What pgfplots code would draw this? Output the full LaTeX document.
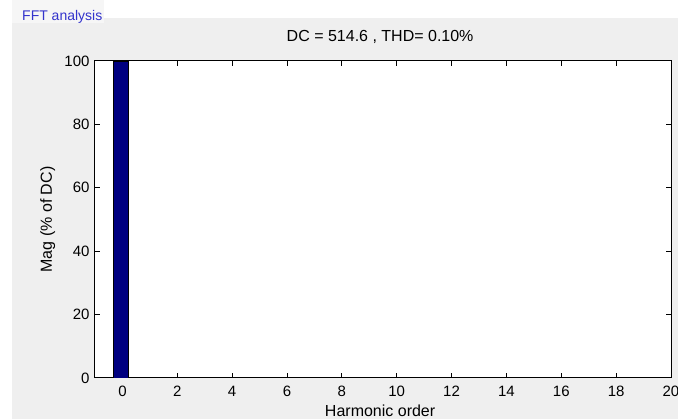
\documentclass[border=0pt]{standalone}
\usepackage{pgfplots}
\pgfplotsset{compat=1.18}
\usepackage{fontspec}
\setmainfont{Liberation Sans}
\definecolor{panel}{HTML}{EFEFEF}
\definecolor{labelbg}{HTML}{F6F6F6}
\definecolor{fftblue}{HTML}{3333CC}
\definecolor{barnavy}{HTML}{000080}
\begin{document}
\begin{tikzpicture}[x=1pt,y=1pt]
\fill[white] (0,0) rectangle (678,419);
\path[use as bounding box] (0,0) rectangle (678,419);
\fill[panel] (12,0) rectangle (678,401);
\fill[labelbg] (12,396) rectangle (104,419);
\node[anchor=base west, text=fftblue, font=\fontsize{14}{16}\selectfont, inner sep=0pt] at (22,398) {FFT analysis};
\begin{axis}[
  at={(95pt,41pt)}, anchor=south west,
  scale only axis, width=576pt, height=317pt,
  xmin=-1, xmax=20, ymin=0, ymax=100,
  xtick={0,2,...,20}, ytick={0,20,...,100},
  tick align=inside, major tick length=5pt,
  axis line style={line width=1pt, black},
  every tick/.style={black, line width=1pt},
  axis background/.style={fill=white},
  /pgf/number format/assume math mode=true,
  tick label style={font=\fontsize{15}{17}\selectfont},
  xticklabel style={anchor=base, yshift=-19pt},
  yticklabel style={xshift=-2pt},
  title={DC = 514.6 , THD= 0.10\%},
  title style={font=\fontsize{16}{18}\selectfont, at={(axis description cs:0.495,1.041)}, anchor=base},
  xlabel={Harmonic order},
  ylabel={Mag (\% of DC)},
  label style={font=\fontsize{16}{18}\selectfont},
  xlabel style={at={(axis description cs:0.495,-0.1230)}, anchor=base},
  ylabel style={at={(axis description cs:-0.0747,0.5)}, anchor=base, rotate=0},
]
\addplot[ybar, bar width=0.54, fill=barnavy, draw=black, line width=0.6pt] coordinates {(-0.05,100)};
\end{axis}
\end{tikzpicture}
\end{document}
